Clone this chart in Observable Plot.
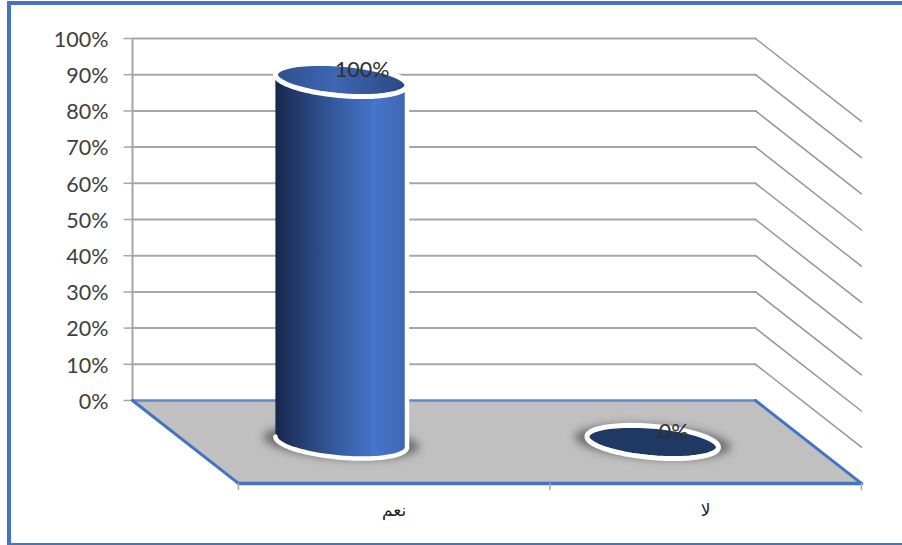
<!DOCTYPE html>
<html lang="ar">
<head>
<meta charset="utf-8">
<script src="https://cdn.jsdelivr.net/npm/d3@7"></script>
<script src="https://cdn.jsdelivr.net/npm/@observablehq/plot@0.6"></script>
<style>
  html, body { margin: 0; padding: 0; background: #fff; }
  #chart { position: relative; width: 902px; height: 545px; overflow: hidden; }
  #chart svg { position: absolute; left: 0; top: 0; background: transparent; }
  #border {
    position: absolute; left: 7px; top: 1px; width: 900px; height: 538px;
    border: 4px solid #4472c4; border-bottom-width: 3px;
  }
</style>
</head>
<body>
<div id="chart"><div id="border"></div></div>
<script>
// Answers and their shares
const categories = ["نعم", "لا"];
const shares = [100, 0];
const shareTicks = [0, 10, 20, 30, 40, 50, 60, 70, 80, 90, 100];
const categoryEdges = [0, 1, 2];

// Oblique projection: depth 0 is the front of the floor, depth 1 the back wall
const depthX = 0.34;   // horizontal shift at the back, in category widths
const depthY = 22.9;   // vertical shift at the back, in percentage points
const place = (cat, depth, val = 0) => ({
  u: cat - depthX * depth,
  v: val - depthY * (1 - depth)
});

// Outline of a circle lying flat at height val, centred in its category
const rimPoint = (i, val, t, a, b) => place(i + 0.5 + a * Math.cos(t), 0.5 + b * Math.sin(t), val);
const radiusA = 0.2, radiusB = 0.2;
const tRight = Math.atan2(-depthX * radiusB, radiusA);   // rightmost point of the rim
const arc = (i, val, from, to, a = radiusA, b = radiusB) =>
  d3.range(0, 49).map(k => rimPoint(i, val, from + (to - from) * k / 48, a, b));
const ring = (i, val, a, b) => arc(i, val, 0, 2 * Math.PI, a, b);

const floor = [place(0, 1), place(2, 1), place(2, 0), place(0, 0), place(0, 1)];
const leftEdge = [place(0, 1), place(0, 0)];
const rightEdge = [place(2, 1), place(2, 0)];
const frontEdge = [place(0, 0), place(2, 0)];
const backEdge = [place(0, 1), place(2, 1)];

// Gridlines run across the back wall and down the right wall
const wallTicks = shareTicks.filter(t => t > 0);
const backGrid = wallTicks.flatMap(t => [place(0, 1, t), place(2, 1, t)].map(p => ({...p, t})));
const sideGrid = wallTicks.flatMap(t => [place(2, 1, t), place(2, 0, t)].map(p => ({...p, t})));

const bars = categories.map((name, i) => ({name, i, value: shares[i]}));
const solid = bars.filter(d => d.value > 0);

const line = (data, options) => Plot.line(data, {x: "u", y: "v", curve: "linear", ...options});

const plot = Plot.plot({
  width: 902,
  height: 545,
  marginLeft: 132,
  marginRight: 147,
  marginTop: 38,
  marginBottom: 145,
  style: {fontFamily: "Lato, sans-serif", background: "transparent"},
  x: {type: "linear", domain: [-depthX, 2 - depthX], axis: null},
  y: {type: "linear", domain: [0, 100], label: null},
  marks: [
    line(backGrid, {z: "t", stroke: "#a6a6a6", strokeWidth: 2}),
    line(sideGrid, {z: "t", stroke: "#969696", strokeWidth: 1.5}),
    Plot.ruleX([place(0, 1).u], {y1: 0, y2: 100, stroke: "#a6a6a6", strokeWidth: 2}),
    Plot.axisY({
      ticks: shareTicks, tickFormat: d => d + "%", tickSize: 8, tickPadding: 16,
      fontSize: 21.5, fill: "#404040", stroke: "none", label: null, dy: 1.5
    }),
    Plot.ruleY(shareTicks, {
      y: d => d,
      x1: place(0, 1).u,
      x2: place(-0.027, 1).u,
      stroke: "#a6a6a6", strokeWidth: 1.5
    }),

    // Floor with its blue rim and the ticks between categories
    line(floor, {fill: "#c0c0c0", stroke: "none"}),
    line(backEdge, {stroke: "#5f88cf", strokeWidth: 2.5}),
    line(leftEdge, {stroke: "#4472c4", strokeWidth: 3}),
    line(rightEdge, {stroke: "#4472c4", strokeWidth: 3}),
    line(frontEdge, {stroke: "#4472c4", strokeWidth: 3.5}),
    Plot.ruleX(categoryEdges, {
      x: c => place(c, 0).u,
      y1: () => place(0, 0).v,
      y2: () => place(0, 0, -2).v,
      stroke: "#a6a6a6", strokeWidth: 1.5
    }),

    // Soft shadows under each cylinder
    ...bars.map(d => line(ring(d.i, 0, 0.24, 0.21), {
      fill: "#6e6e6e", stroke: "none", imageFilter: "blur(4px)"
    })),

    // Cylinder bodies
    ...solid.map(d => line(
      [...arc(d.i, 0, tRight + Math.PI, tRight + 2 * Math.PI), ...arc(d.i, d.value, tRight, tRight + Math.PI)],
      {fill: "url(#bodyShade)", stroke: "#fff", strokeWidth: 4.5}
    )),

    // Cylinder tops; a zero share leaves only a flat disc
    ...bars.map(d => line(ring(d.i, d.value), {
      fill: d.value > 0 ? "url(#topShade)" : "#1f3864", stroke: "#fff", strokeWidth: 5
    })),

    // Value labels
    Plot.text(bars, {
      x: d => place(d.i + 0.5, 0.5).u,
      y: d => place(d.i + 0.5, 0.5, d.value).v,
      text: d => d.value + "%",
      dx: 21, dy: -10, fontSize: 21.5, fill: "#303030"
    }),

    // Category names below the floor
    Plot.text(bars, {
      x: d => place(d.i + 0.5, 0).u,
      y: () => place(0, 0).v,
      text: "name",
      dy: 27, fontSize: 17, fill: "#222", fontFamily: "DejaVu Sans"
    })
  ]
});

// Horizontal shading for the cylinder side and top
const defs = d3.select(plot).append("defs");
const gradient = (id, stops) => {
  const g = defs.append("linearGradient").attr("id", id);
  stops.forEach(([offset, color]) => g.append("stop").attr("offset", offset).attr("stop-color", color));
};
gradient("bodyShade", [[0, "#17264a"], [0.1, "#1f3361"], [0.45, "#345a9c"], [0.75, "#4674c9"], [1, "#3f68b5"]]);
gradient("topShade", [[0, "#2c4f8e"], [0.45, "#3e66b3"], [1, "#2c4680"]]);

document.getElementById("chart").append(plot);
</script>
</body>
</html>
